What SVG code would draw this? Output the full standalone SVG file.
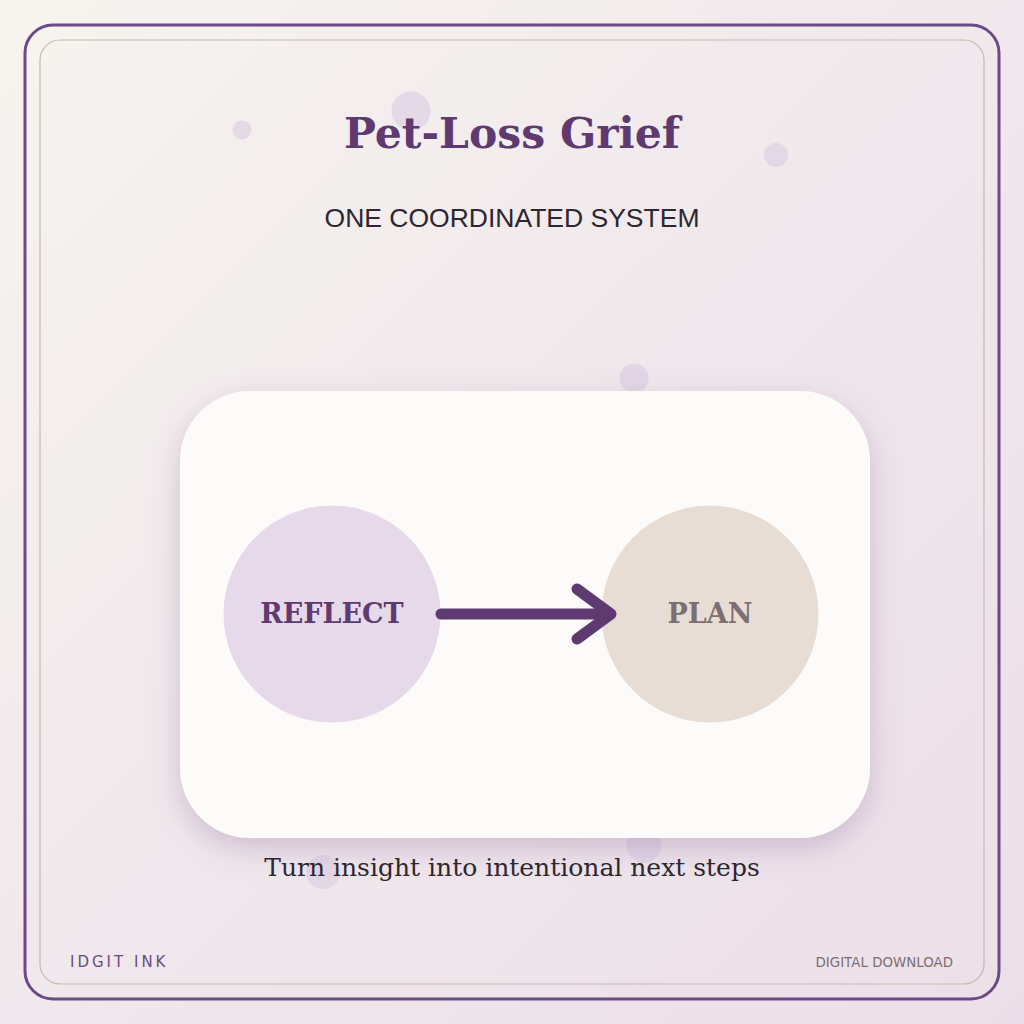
<svg xmlns="http://www.w3.org/2000/svg" width="1024" height="1024" viewBox="0 0 1024 1024">
  <defs>
    <linearGradient id="bg" x1="0" y1="0" x2="1" y2="1">
      <stop offset="0" stop-color="#f7f4ef"/>
      <stop offset="0.5" stop-color="#f0e8ec"/>
      <stop offset="1" stop-color="#ecdfe9"/>
    </linearGradient>
    <filter id="shadow" x="-20%" y="-20%" width="140%" height="150%">
      <feDropShadow dx="0" dy="10" stdDeviation="15" flood-color="#7a5a8e" flood-opacity="0.3"/>
    </filter>
    <style>
      .dot { fill: #ddd0e2; opacity: 0.7; }
      .node-label { font-family: "DejaVu Serif", serif; font-weight: bold; font-size: 27px; text-anchor: middle; }
      .conn { stroke: #5e3a70; stroke-width: 11; stroke-linecap: round; stroke-linejoin: round; fill: none; }
    </style>
  </defs>
  <rect width="1024" height="1024" fill="url(#bg)"/>
  <rect x="25" y="25" width="974" height="974" rx="28" fill="none" stroke="#6b4a86" stroke-width="3"/>
  <rect x="40" y="40" width="944" height="944" rx="20" fill="none" stroke="#c8b8aa" stroke-width="1.2"/>

  <g id="decor">
    <circle class="dot" cx="242" cy="130" r="9.5"/>
    <circle class="dot" cx="411" cy="111" r="19.5"/>
    <circle class="dot" cx="776" cy="155" r="12"/>
    <circle class="dot" cx="634" cy="378" r="14.5"/>
    <circle class="dot" cx="644" cy="845" r="17.5"/>
    <circle class="dot" cx="323" cy="872" r="17"/>
  </g>

  <text x="512" y="148" font-family="DejaVu Serif, serif" font-weight="bold" font-size="42.5" fill="#5e3a70" text-anchor="middle">Pet-Loss Grief</text>
  <text x="512" y="227" font-family="Liberation Sans, Arial, sans-serif" font-size="26.5" fill="#2e2630" text-anchor="middle">ONE COORDINATED SYSTEM</text>

  <g id="card">
    <rect x="180" y="391" width="690" height="447" rx="70" fill="#fdfbf9" filter="url(#shadow)"/>
  </g>

  <g id="node-reflect">
    <circle cx="332" cy="614" r="108.5" fill="#e5d9ea"/>
    <text class="node-label" x="332" y="623" fill="#5e3a70">REFLECT</text>
  </g>
  <g id="node-plan">
    <circle cx="710" cy="614" r="108.5" fill="#e8ddd5"/>
    <text class="node-label" x="710" y="623" fill="#7d6e72">PLAN</text>
  </g>

  <g id="connectors">
    <line class="conn" x1="441" y1="614" x2="608" y2="614"/>
    <polyline class="conn" points="577,589 611,614 577,639"/>
  </g>

  <text x="512" y="876" font-family="DejaVu Serif, serif" font-size="25" fill="#2e2630" text-anchor="middle">Turn insight into intentional next steps</text>

  <text x="70" y="967" font-family="DejaVu Sans, sans-serif" font-size="15" letter-spacing="3" fill="#6b4a86">IDGIT INK</text>
  <text x="953" y="967" font-family="DejaVu Sans, sans-serif" font-size="13.4" fill="#7d6e72" text-anchor="end">DIGITAL DOWNLOAD</text>
</svg>
